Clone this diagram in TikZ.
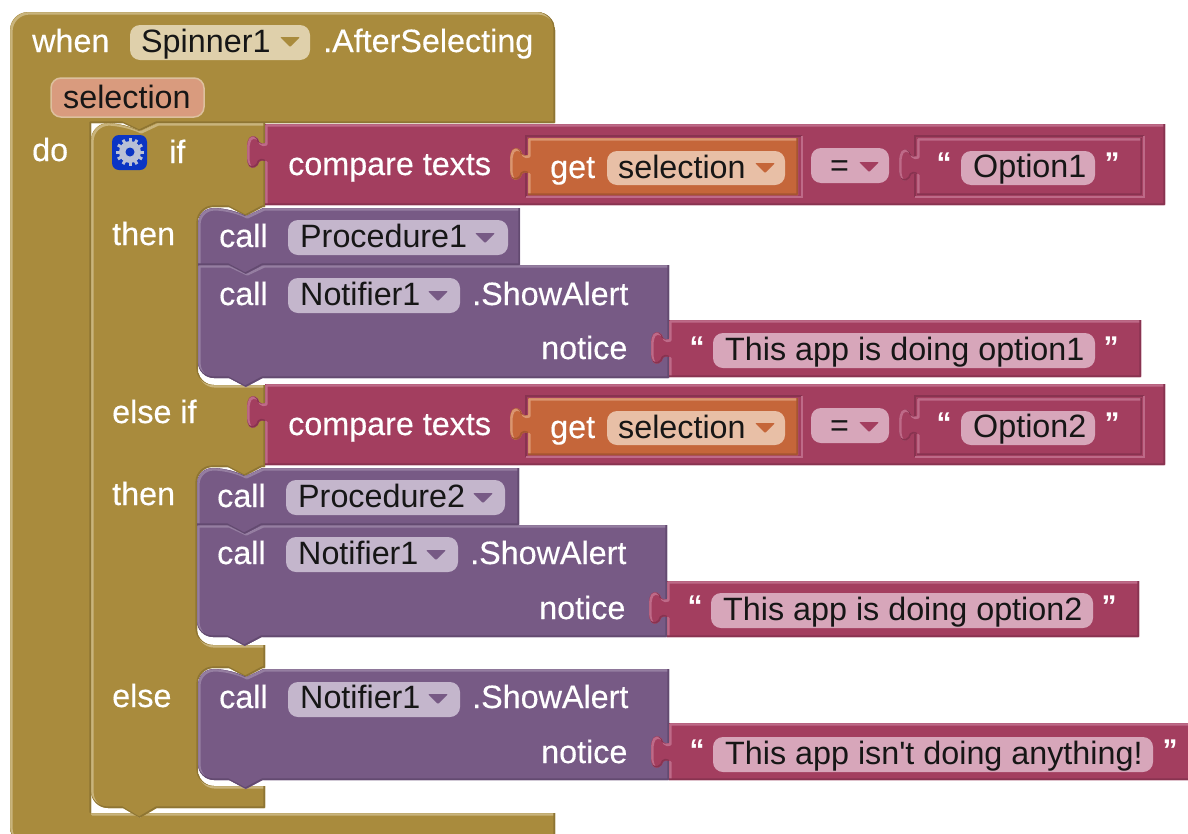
\documentclass[tikz,border=0pt]{standalone}
\usepackage{fontspec}
\setmainfont{Liberation Sans}
\newfontfamily\rawf{Liberation Sans}
\newfontfamily\wfont[FakeBold=0.35]{Liberation Sans}
\definecolor{brn}{HTML}{A98B3D}
\definecolor{brnhi}{HTML}{C9B47C}
\definecolor{brnlo}{HTML}{8E7533}
\definecolor{brnfld}{HTML}{DFD0AB}
\definecolor{mar}{HTML}{A33E5F}
\definecolor{marhi}{HTML}{BE6A88}
\definecolor{marlo}{HTML}{883350}
\definecolor{marfld}{HTML}{D7A6BA}
\definecolor{pur}{HTML}{775A85}
\definecolor{purhi}{HTML}{957EA1}
\definecolor{purlo}{HTML}{634A70}
\definecolor{purfld}{HTML}{C4B6CC}
\definecolor{org}{HTML}{C5663A}
\definecolor{orghi}{HTML}{DA9570}
\definecolor{orglo}{HTML}{A55531}
\definecolor{orgfld}{HTML}{E8BFA6}
\definecolor{selfld}{HTML}{D99B7E}
\definecolor{ink}{HTML}{161616}
\definecolor{iconblue}{HTML}{0B35C4}
\definecolor{icongear}{HTML}{B9C0D6}
\newcount\txtno
\newcommand{\Bev}[4]{\begin{scope}\clip #1;\fill[#2] #1;\draw[#3,line width=2.6pt,line join=round,shift={(1.3,1.3)}] #1;\draw[#4,line width=1.6pt,line join=round,shift={(-0.8,-0.8)}] #1;\end{scope}}
\newcommand{\TabP}[2]{-- (#1,{#2+9}) [rounded corners=2pt] -- ({#1-5},{#2+8}) -- ({#1-8},{#2+15}) -- ({#1-15},{#2+16}) -- ({#1-18},{#2+9}) -- ({#1-18},{#2-9}) -- ({#1-15},{#2-16}) -- ({#1-8},{#2-15}) -- ({#1-5},{#2-8}) [sharp corners] -- (#1,{#2-9})}
% x0 y0 x1 y1 tabcentre colourprefix
\newcommand{\Inblk}[6]{\Bev{(#1,#2) -- (#3,#2) -- (#3,#4) -- (#1,#4) \TabP{#1}{#5} -- cycle}{#6}{#6hi}{#6lo}}
% socket frame: dark top-left, light bottom-right
\newcommand{\Sock}[4]{\draw[marlo,line width=2pt] (#1,#4) -- (#1,#2) -- (#3,#2);\draw[marhi,line width=2.6pt] (#3,#2) -- (#3,#4) -- (#1,#4);}
\newcommand{\Fld}[5]{\fill[#5,rounded corners=10pt] (#1,#2) rectangle (#3,#4);}
\newcommand{\Tri}[3]{\fill[#3,rounded corners=1pt] (#1,#2) -- ({#1+20},#2) -- ({#1+10},{#2+10}) -- cycle;}
\newcommand{\Wt}[3]{\global\advance\txtno by 1 \node[wtxt] (t\the\txtno) at (#1,#2) {#3};}
\newcommand{\Bk}[3]{\global\advance\txtno by 1 \node[btxt] (t\the\txtno) at (#1,#2) {#3};}
\newcommand{\Qt}[3]{\global\advance\txtno by 1 \node[qtxt] (t\the\txtno) at (#1,#2) {#3};}
% call block: x0 y0 x1 y1 notchcentre rtop rbottom
\newcommand{\Call}[7]{\Bev{(#1,{(#2+#4)/2}) [rounded corners=#6pt] -- (#1,#2) -- ({#5-17},#2) [sharp corners] -- (#5,{#2+8}) -- ({#5+17},#2) -- (#3,#2) -- (#3,#4) -- ({#5+17},#4) -- (#5,{#4+9}) -- ({#5-17},#4) [rounded corners=#7pt] -- (#1,#4) -- cycle}{pur}{purhi}{purlo}}
\newcommand{\Compare}[3]{%
\begin{scope}[yshift=-#1pt]
\Inblk{265}{124}{1165}{205}{152}{mar}
\Wt{288}{175}{compare texts}
\Sock{526}{136}{802}{197}
\Inblk{528}{138}{798}{195}{164}{org}
\Wt{550}{178}{get}
\Fld{607}{151}{785}{185}{orgfld}
\Bk{618}{178}{selection}
\Tri{755}{163}{org}
\Fld{811}{148}{889}{183}{marfld}
\Bk{830}{176}{=}
\Tri{859}{162}{mar}
\Sock{915}{136}{1144}{197}
\Inblk{917}{138}{1142}{195}{165}{mar}
\Qt{#2}{173}{“}
\Fld{961}{151}{1095}{185}{marfld}
\Bk{973}{177}{#3}
\Qt{1112}{173}{”}
\end{scope}}
\tikzset{
 wtxt/.style={font=\fontsize{32.3}{36}\wfont,text=white,anchor=base west,inner sep=0pt},
 btxt/.style={font=\fontsize{32.3}{36}\selectfont,text=ink,anchor=base west,inner sep=0pt},
 qtxt/.style={font=\fontsize{30}{32}\selectfont\bfseries,text=white,anchor=base,inner sep=0pt}
}
\begin{document}
\begin{tikzpicture}[x=1pt,y=-1pt]
\useasboundingbox (0,0) rectangle (1188,833);
\fill[white] (0,0) rectangle (1188,833);
% outer event block
\Bev{(10,300) [rounded corners=18pt] -- (10,12) -- (555,12) [sharp corners] -- (555,123) -- (157,123) -- (140,131) -- (123,123) -- (91,123) -- (91,813) -- (555,813) -- (555,845) [rounded corners=18pt] -- (10,845) -- cycle}{brn}{brnhi}{brnlo}
\Wt{32}{52}{when}
\Fld{130}{25}{310}{60}{brnfld}
\Bk{141}{52}{Spinner1}
\Tri{280}{37}{brn}
\Wt{323}{52}{.AfterSelecting}
\Fld{51}{78}{204}{117}{selfld}
\draw[brnfld!70!selfld,line width=1.5pt,rounded corners=10pt] (51,78) rectangle (204,117);
\Bk{63}{108}{selection}
\Wt{32}{161}{do}
% if block
\Bev{(91,300) [rounded corners=17pt] -- (91,123) -- (123,123) [sharp corners] -- (140,131) -- (157,123) -- (265,123) -- (265,207) -- (263,207) -- (246,216) -- (229,207) [rounded corners=16pt] -- (198,207) -- (198,385) [sharp corners] -- (265,385) -- (265,467) -- (262,467) -- (245,476) -- (228,467) [rounded corners=16pt] -- (197,467) -- (197,645) [sharp corners] -- (265,645) -- (265,668) -- (263,668) -- (246,677) -- (229,668) [rounded corners=16pt] -- (198,668) -- (198,786) [sharp corners] -- (265,786) -- (265,808) -- (157,808) -- (140,818) -- (123,808) [rounded corners=17pt] -- (91,808) -- cycle}{brn}{brnhi}{brnlo}
% gear icon
\fill[iconblue,rounded corners=7pt] (112,135) rectangle (147,170);
\foreach \a in {0,30,...,330}{\draw[icongear,line width=3pt] (130,152) -- ++(\a:14);}
\fill[icongear] (130,152) circle[radius=11];
\fill[iconblue] (130,152) circle[radius=4.5];
\Wt{169}{163}{if}
\Wt{112}{245}{then}
\Wt{112}{423}{else if}
\Wt{112}{505}{then}
\Wt{112}{707}{else}
% group 1
\Call{198}{265}{669}{378}{246}{0}{16}
\Call{198}{208}{520}{265}{246}{15}{0}
\Wt{219}{247}{call}
\Fld{288}{220}{508}{255}{purfld}
\Bk{300}{247}{Procedure1}
\Tri{475}{233}{pur}
\Wt{219}{305}{call}
\Fld{288}{278}{460}{313}{purfld}
\Bk{300}{305}{Notifier1}
\Tri{428}{291}{pur}
\Wt{472}{305}{.ShowAlert}
\Wt{541}{359}{notice}
\Inblk{669}{320}{1141}{377}{348}{mar}
\Qt{697}{357}{“}
\Fld{713}{333}{1095}{368}{marfld}
\Bk{725}{360}{This app is doing option1}
\Qt{1111}{357}{”}
% compare rows
\Compare{0}{944}{Option1}
\Compare{260}{944}{Option2}
% group 2
\Call{197}{525}{667}{637}{245}{0}{16}
\Call{197}{468}{519}{525}{245}{15}{0}
\Wt{217}{507}{call}
\Fld{286}{480}{505}{515}{purfld}
\Bk{298}{507}{Procedure2}
\Tri{473}{493}{pur}
\Wt{217}{564}{call}
\Fld{286}{537}{458}{572}{purfld}
\Bk{298}{564}{Notifier1}
\Tri{426}{550}{pur}
\Wt{470}{564}{.ShowAlert}
\Wt{539}{619}{notice}
\Inblk{667}{581}{1139}{637}{608}{mar}
\Qt{695}{616}{“}
\Fld{711}{593}{1093}{628}{marfld}
\Bk{723}{620}{This app is doing option2}
\Qt{1109}{616}{”}
% group 3
\Call{198}{669}{669}{780}{246}{15}{16}
\Wt{219}{708}{call}
\Fld{288}{682}{460}{717}{purfld}
\Bk{300}{708}{Notifier1}
\Tri{428}{694}{pur}
\Wt{472}{708}{.ShowAlert}
\Wt{541}{763}{notice}
\Inblk{669}{723}{1200}{780}{752}{mar}
\Qt{697}{760}{“}
\Fld{713}{737}{1153}{772}{marfld}
\Bk{725}{764}{This app isn{\rawf '}t doing anything!}
\Qt{1170}{760}{”}
\end{tikzpicture}
\end{document}
